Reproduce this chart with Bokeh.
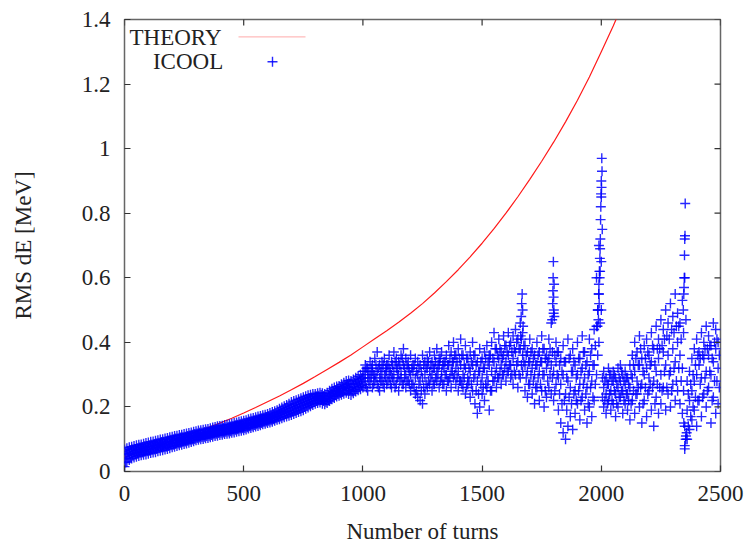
import math
from bokeh.plotting import figure
from bokeh.models import (Range1d, FixedTicker, Label, PolyAnnotation,
                          ColumnDataSource)
from bokeh.embed import file_html
from bokeh.resources import INLINE

# ---------------- data ----------------
theory_turns = [0, 50, 100, 150, 200, 250, 300, 350, 400, 450, 500, 550, 600,
                650, 700, 750, 800, 850, 900, 950, 1000, 1050, 1100, 1150,
                1200, 1250, 1300, 1350, 1400, 1450, 1500, 1550, 1600, 1650,
                1700, 1750, 1800, 1850, 1900, 1950, 2000, 2050, 2100]
theory_rms = [0.045, 0.056, 0.068, 0.081, 0.095, 0.109, 0.123, 0.136, 0.150,
              0.165, 0.181, 0.198, 0.216, 0.234, 0.253, 0.273, 0.294, 0.316,
              0.338, 0.361, 0.386, 0.411, 0.436, 0.462, 0.490, 0.520, 0.553,
              0.588, 0.625, 0.665, 0.707, 0.752, 0.800, 0.851, 0.905, 0.961,
              1.020, 1.083, 1.150, 1.222, 1.300, 1.380, 1.465]

# dense band, turns 0..990 every 10 turns (lo / mid / hi)
band_turns = list(range(0, 1000, 10))
band_lo = [0.015, 0.030, 0.036, 0.040, 0.043, 0.046, 0.048, 0.050, 0.052, 0.053,
           0.055, 0.057, 0.059, 0.060, 0.063, 0.064, 0.066, 0.068, 0.070, 0.072,
           0.075, 0.077, 0.079, 0.081, 0.083, 0.085, 0.087, 0.089, 0.091, 0.094,
           0.097, 0.098, 0.100, 0.101, 0.103, 0.104, 0.106, 0.108, 0.110, 0.111,
           0.113, 0.114, 0.116, 0.117, 0.118, 0.120, 0.121, 0.123, 0.125, 0.126,
           0.128, 0.130, 0.133, 0.135, 0.137, 0.139, 0.141, 0.143, 0.146, 0.148,
           0.150, 0.152, 0.154, 0.157, 0.160, 0.162, 0.165, 0.168, 0.170, 0.173,
           0.175, 0.178, 0.181, 0.184, 0.187, 0.190, 0.194, 0.198, 0.202, 0.206,
           0.210, 0.212, 0.214, 0.210, 0.208, 0.212, 0.218, 0.224, 0.228, 0.232,
           0.235, 0.238, 0.241, 0.244, 0.240, 0.237, 0.242, 0.248, 0.252, 0.255]
band_mid = [0.040, 0.052, 0.056, 0.058, 0.061, 0.063, 0.066, 0.067, 0.069, 0.070,
            0.072, 0.075, 0.076, 0.078, 0.080, 0.082, 0.083, 0.085, 0.087, 0.089,
            0.091, 0.093, 0.095, 0.097, 0.098, 0.100, 0.102, 0.104, 0.106, 0.108,
            0.111, 0.112, 0.114, 0.115, 0.117, 0.118, 0.120, 0.122, 0.124, 0.126,
            0.127, 0.128, 0.130, 0.131, 0.132, 0.134, 0.136, 0.138, 0.140, 0.141,
            0.142, 0.144, 0.147, 0.149, 0.151, 0.153, 0.155, 0.157, 0.160, 0.162,
            0.164, 0.166, 0.169, 0.172, 0.175, 0.178, 0.181, 0.185, 0.188, 0.191,
            0.195, 0.198, 0.201, 0.204, 0.207, 0.210, 0.213, 0.217, 0.220, 0.223,
            0.225, 0.227, 0.229, 0.226, 0.224, 0.228, 0.234, 0.240, 0.244, 0.248,
            0.250, 0.254, 0.258, 0.262, 0.261, 0.258, 0.263, 0.269, 0.273, 0.277]
band_hi = [0.068, 0.072, 0.075, 0.077, 0.079, 0.081, 0.083, 0.084, 0.086, 0.088,
           0.090, 0.092, 0.093, 0.095, 0.097, 0.099, 0.100, 0.102, 0.104, 0.106,
           0.108, 0.110, 0.111, 0.113, 0.114, 0.116, 0.118, 0.119, 0.121, 0.123,
           0.125, 0.127, 0.128, 0.129, 0.131, 0.132, 0.134, 0.136, 0.138, 0.140,
           0.141, 0.142, 0.144, 0.145, 0.146, 0.148, 0.150, 0.152, 0.154, 0.156,
           0.157, 0.159, 0.162, 0.164, 0.166, 0.168, 0.170, 0.172, 0.174, 0.176,
           0.178, 0.181, 0.184, 0.187, 0.190, 0.194, 0.198, 0.202, 0.206, 0.210,
           0.215, 0.218, 0.221, 0.224, 0.227, 0.230, 0.233, 0.236, 0.238, 0.240,
           0.240, 0.242, 0.244, 0.242, 0.240, 0.244, 0.250, 0.256, 0.260, 0.263,
           0.265, 0.270, 0.275, 0.280, 0.282, 0.280, 0.285, 0.290, 0.295, 0.300]
# dense band, turns 5..995 every 10 turns (lower / upper quarter)
band_turns2 = list(range(5, 1000, 10))
band_q1 = [0.028, 0.042, 0.047, 0.050, 0.053, 0.055, 0.058, 0.059, 0.061, 0.063,
           0.064, 0.067, 0.068, 0.070, 0.072, 0.074, 0.075, 0.077, 0.079, 0.081,
           0.083, 0.085, 0.087, 0.089, 0.091, 0.093, 0.095, 0.097, 0.099, 0.101,
           0.104, 0.105, 0.107, 0.108, 0.110, 0.111, 0.113, 0.115, 0.117, 0.119,
           0.120, 0.121, 0.123, 0.124, 0.125, 0.127, 0.129, 0.131, 0.133, 0.134,
           0.135, 0.137, 0.140, 0.142, 0.144, 0.146, 0.148, 0.150, 0.153, 0.155,
           0.157, 0.159, 0.162, 0.165, 0.168, 0.170, 0.173, 0.177, 0.179, 0.182,
           0.185, 0.188, 0.191, 0.194, 0.197, 0.200, 0.204, 0.208, 0.211, 0.215,
           0.218, 0.220, 0.222, 0.218, 0.216, 0.220, 0.226, 0.232, 0.236, 0.240,
           0.243, 0.246, 0.250, 0.253, 0.251, 0.248, 0.253, 0.259, 0.263, 0.266]
band_q3 = [0.054, 0.062, 0.066, 0.068, 0.070, 0.072, 0.075, 0.076, 0.078, 0.079,
           0.081, 0.084, 0.085, 0.087, 0.089, 0.091, 0.092, 0.094, 0.096, 0.098,
           0.100, 0.102, 0.103, 0.105, 0.106, 0.108, 0.110, 0.112, 0.114, 0.116,
           0.118, 0.120, 0.121, 0.122, 0.124, 0.125, 0.127, 0.129, 0.131, 0.133,
           0.134, 0.135, 0.137, 0.138, 0.139, 0.141, 0.143, 0.145, 0.147, 0.149,
           0.150, 0.152, 0.155, 0.157, 0.159, 0.161, 0.163, 0.165, 0.167, 0.169,
           0.171, 0.174, 0.177, 0.180, 0.183, 0.186, 0.190, 0.194, 0.197, 0.201,
           0.205, 0.208, 0.211, 0.214, 0.217, 0.220, 0.223, 0.227, 0.229, 0.232,
           0.233, 0.235, 0.237, 0.234, 0.232, 0.236, 0.242, 0.248, 0.252, 0.256,
           0.258, 0.262, 0.267, 0.271, 0.272, 0.269, 0.274, 0.280, 0.284, 0.289]

# scattered region, turns 1000..2490 every 10 turns
scat_turns = list(range(1000, 2500, 10))
scat_a = [.26, .27, .25, .27, .26, .28, .27, .25, .28, .26,
          .27, .29, .26, .28, .27, .25, .29, .27, .26, .28,
          .25, .27, .24, .23, .22, .21, .24, .26, .27, .25,
          .27, .28, .26, .29, .27, .25, .28, .26, .29, .27,
          .25, .28, .26, .24, .27, .23, .25, .21, .18, .20,
          .24, .22, .26, .19, .25, .28, .26, .29, .27, .30,
          .28, .31, .29, .27, .30, .26, .29, .31, .25, .23,
          .27, .24, .21, .26, .22, .25, .20, .23, .26, .24,
          .22, .27, .19, .15, .12, .10, .14, .17, .13, .18,
          .21, .16, .23, .19, .15, .20, .17, .22, .30, .40,
          .50, .20, .18, .22, .19, .21, .17, .20, .23, .18,
          .21, .19, .16, .22, .18, .24, .20, .15, .22, .17,
          .25, .19, .14, .23, .18, .21, .26, .19, .24, .20,
          .27, .22, .25, .21, .18, .08, .10, .13, .16, .19,
          .14, .22, .17, .24, .20, .26, .15, .23, .18, .21]
scat_b = [.29, .30, .29, .30, .31, .30, .31, .29, .31, .30,
          .31, .32, .30, .31, .32, .30, .31, .33, .30, .32,
          .30, .31, .29, .30, .28, .29, .30, .32, .31, .30,
          .32, .31, .33, .31, .32, .30, .33, .31, .34, .32,
          .31, .33, .30, .32, .29, .31, .33, .30, .28, .31,
          .29, .32, .30, .33, .31, .34, .32, .35, .33, .36,
          .34, .36, .33, .35, .37, .34, .38, .36, .33, .31,
          .34, .32, .30, .33, .31, .34, .30, .32, .35, .33,
          .31, .34, .29, .27, .30, .24, .28, .26, .31, .25,
          .30, .27, .32, .29, .26, .31, .28, .33, .45, .55,
          .65, .26, .24, .27, .25, .28, .24, .26, .28, .25,
          .27, .24, .26, .29, .31, .28, .33, .27, .30, .32,
          .29, .34, .28, .31, .35, .30, .37, .33, .36, .31,
          .38, .34, .40, .36, .32, .14, .19, .22, .25, .28,
          .30, .33, .29, .35, .31, .36, .30, .34, .38, .32]
scat_c = [.31, .33, .32, .34, .33, .35, .37, .33, .34, .35,
          .33, .36, .34, .37, .35, .34, .36, .38, .35, .34,
          .36, .33, .35, .34, .33, .36, .34, .35, .37, .34,
          .36, .38, .35, .37, .34, .36, .39, .37, .40, .36,
          .38, .41, .36, .39, .35, .37, .40, .36, .34, .38,
          .35, .37, .39, .36, .40, .43, .38, .41, .37, .42,
          .39, .43, .40, .42, .44, .41, .46, .43, .39, .37,
          .41, .38, .36, .40, .37, .42, .38, .36, .41, .46,
          .49, .40, .37, .35, .39, .34, .41, .36, .38, .33,
          .40, .35, .42, .37, .34, .41, .38, .44, .60, .70,
          .85, .31, .29, .32, .30, .31, .29, .32, .33, .30,
          .31, .29, .33, .36, .40, .37, .42, .35, .39, .41,
          .36, .43, .38, .45, .41, .47, .44, .50, .46, .52,
          .48, .55, .49, .46, .53, .60, .28, .31, .35, .38,
          .41, .37, .43, .40, .45, .42, .39, .46, .44, .40]
# scattered region, turns 1005..2495 every 10 turns
scat_turns2 = list(range(1005, 2500, 10))
scat_d = [.28, .26, .28, .29, .27, .29, .26, .28, .27, .29,
          .28, .27, .29, .26, .29, .28, .27, .29, .28, .27,
          .27, .26, .25, .27, .25, .26, .27, .28, .29, .27,
          .29, .30, .28, .27, .30, .28, .29, .31, .30, .29,
          .28, .27, .29, .26, .28, .27, .29, .25, .24, .27,
          .26, .27, .28, .25, .28, .30, .29, .31, .30, .32,
          .31, .33, .30, .31, .33, .30, .33, .34, .29, .27,
          .30, .28, .26, .29, .27, .30, .25, .28, .30, .29,
          .25, .30, .24, .21, .22, .19, .23, .21, .24, .22,
          .25, .22, .27, .24, .21, .26, .23, .27, .36, .46,
          .23, .22, .21, .24, .22, .25, .21, .23, .25, .22,
          .24, .22, .21, .25, .24, .26, .26, .21, .26, .24,
          .27, .26, .21, .27, .26, .25, .31, .26, .30, .25,
          .32, .28, .32, .28, .25, .11, .14, .17, .20, .23,
          .22, .27, .23, .29, .25, .31, .22, .28, .28, .26]
scat_e = [.31, .32, .31, .32, .30, .33, .32, .31, .33, .32,
          .33, .31, .33, .34, .32, .33, .35, .32, .33, .31,
          .32, .33, .31, .32, .31, .33, .32, .34, .33, .32,
          .34, .33, .35, .33, .34, .33, .35, .34, .36, .34,
          .35, .36, .33, .35, .32, .34, .36, .33, .31, .34,
          .32, .35, .34, .36, .35, .38, .36, .38, .35, .39,
          .37, .39, .37, .38, .40, .38, .41, .39, .36, .34,
          .37, .35, .33, .36, .34, .38, .35, .34, .38, .37,
          .36, .37, .33, .31, .34, .29, .35, .31, .34, .29,
          .35, .31, .37, .33, .30, .36, .33, .39, .50, .62,
          .29, .28, .27, .30, .28, .30, .27, .29, .31, .28,
          .29, .27, .30, .33, .35, .33, .38, .31, .35, .37,
          .33, .39, .33, .38, .38, .39, .41, .42, .41, .44,
          .43, .45, .45, .41, .43, .47, .24, .27, .30, .33,
          .36, .35, .36, .38, .38, .39, .35, .40, .41, .36]

# spikes and outliers
spike_turns = [1662, 1664, 1666, 1668, 1670, 1672,
               1794, 1796, 1797, 1798, 1799, 1800, 1801, 1802, 1803,
               1984, 1986, 1988, 1989, 1990, 1991, 1992, 1993, 1994, 1995,
               1996, 1997, 1998, 1999, 2000, 2001, 2002, 2003, 2004,
               2344, 2346, 2347, 2348, 2349, 2350, 2351, 2352,
               2346, 2350, 2354, 2358]
spike_rms = [.42, .48, .52, .55, .50, .45,
             .47, .52, .56, .60, .65, .54, .50, .58, .48,
             .45, .50, .47, .55, .58, .52, .62, .60, .66, .69,
             .72, .78, .82, .86, .90, .88, .97, .93, .75,
             .50, .55, .57, .60, .67, .72, .73, .83,
             .15, .07, .10, .12]

x_ticks = [0, 500, 1000, 1500, 2000, 2500]
y_ticks = [0, 0.2, 0.4, 0.6, 0.8, 1.0, 1.2, 1.4]
y_tick_labels = ["0", "0.2", "0.4", "0.6", "0.8", "1", "1.2", "1.4"]

# ---------------- figure ----------------
FONT = "Liberation Serif"
FS = "23px"
TXT = "#222222"
BLUE = "#0000ff"
RED = "#ff1a1a"

p = figure(width=744, height=546, output_backend="svg", toolbar_location=None,
           x_range=Range1d(0, 2500), y_range=Range1d(0, 1.4),
           min_border_left=124, min_border_right=24,
           min_border_top=19, min_border_bottom=74)
p.background_fill_color = "white"
p.border_fill_color = "white"
p.grid.visible = False
p.outline_line_color = "#666666"
p.outline_line_width = 1.5

icool_x = (band_turns * 3 + band_turns2 * 2 + scat_turns * 3
           + scat_turns2 * 2 + spike_turns)
icool_y = (band_lo + band_mid + band_hi + band_q1 + band_q3
           + scat_a + scat_b + scat_c + scat_d + scat_e + spike_rms)
src_icool = ColumnDataSource(dict(x=icool_x, y=icool_y))
src_theory = ColumnDataSource(dict(x=theory_turns, y=theory_rms))

p.line("x", "y", source=src_theory, line_color=RED, line_width=1.2)
p.scatter("x", "y", source=src_icool, marker="cross", size=10,
          line_color=BLUE, line_width=1.4, line_alpha=0.85)

# mirror ticks on the top and right edges (half clipped by the frame)
xr, yr = p.x_range, p.y_range
p.scatter(x=x_ticks, y=[yr.end] * len(x_ticks), marker="dash",
          angle=math.pi / 2, size=12, line_color="#333333", line_width=1.2)
p.scatter(x=[xr.end] * len(y_ticks), y=y_ticks, marker="dash",
          size=12, line_color="#333333", line_width=1.2)

xa = p.xaxis[0]
ya = p.yaxis[0]
for ax, ticks in ((xa, x_ticks), (ya, y_ticks)):
    ax.ticker = FixedTicker(ticks=ticks)
    ax.axis_line_color = None
    ax.major_tick_in = 6
    ax.major_tick_out = 0
    ax.major_tick_line_color = "#333333"
    ax.major_tick_line_width = 1.2
    ax.minor_tick_line_color = None
    ax.major_label_text_font = FONT
    ax.major_label_text_font_size = FS
    ax.major_label_text_color = TXT
    ax.axis_label_text_font = FONT
    ax.axis_label_text_font_size = FS
    ax.axis_label_text_font_style = "normal"
    ax.axis_label_text_color = TXT
ya.major_label_overrides = {t: s for t, s in zip(y_ticks, y_tick_labels)}
xa.major_label_standoff = 14
ya.major_label_standoff = 14
xa.axis_label = "Number of turns"
ya.axis_label = "RMS dE [MeV]"
xa.axis_label_standoff = 15
ya.axis_label_standoff = 43

# key in gnuplot style: text on the left, sample on the right
# (screen offsets from the plot frame's bottom-left corner)
for txt, sx, sy in (("THEORY", 97, 433.7), ("ICOOL", 98.7, 410)):
    p.add_layout(Label(x=sx, y=sy, x_units="screen", y_units="screen",
                       text=txt, text_align="right", text_baseline="middle",
                       text_font=FONT, text_font_size=FS, text_color=TXT))
p.add_layout(PolyAnnotation(xs=[114, 181, 114], ys=[434.7, 434.7, 434.7],
                            xs_units="screen", ys_units="screen",
                            line_color=RED, line_width=1.2, fill_color=None))
for xs, ys in (([143, 153, 143], [409.7, 409.7, 409.7]),
               ([148, 148, 148], [404.7, 414.7, 404.7])):
    p.add_layout(PolyAnnotation(xs=xs, ys=ys, xs_units="screen",
                                ys_units="screen", line_color=BLUE,
                                line_width=1.4, line_alpha=0.85,
                                fill_color=None))

open("out.html", "w").write(file_html(p, INLINE))
